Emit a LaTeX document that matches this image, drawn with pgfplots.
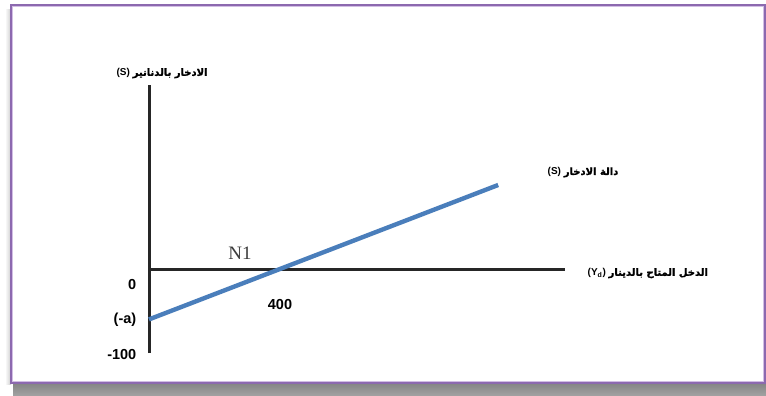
\documentclass[border=0pt]{standalone}
\usepackage{fontspec}
\usepackage{pgfplots}
\pgfplotsset{compat=1.18}
\setmainfont{Liberation Sans}
\newfontfamily\seriffont{Liberation Serif}
\newfontfamily\arabicfont[Script=Arabic, FakeBold=1.6]{DejaVu Sans}
\TeXXeTstate=1
\definecolor{framepurple}{RGB}{140,105,175}
\definecolor{framelilac}{RGB}{210,190,228}
\definecolor{lineblue}{RGB}{74,126,187}
\definecolor{ngray}{RGB}{60,60,60}
\definecolor{shadow}{RGB}{132,132,132}
\begin{document}
\begin{tikzpicture}
% page area and frame (1pt = 1px of the reference)
\path (0pt,0pt) rectangle (766pt,-396pt);
\shade[top color=shadow, bottom color=shadow!75] (13pt,-383pt) rectangle (766pt,-396pt);
\shade[left color=white, right color=gray!40] (5pt,-10pt) rectangle (11pt,-384pt);
\draw[framepurple, line width=2.4pt, fill=white] (11pt,-5pt) rectangle (764.8pt,-383pt);
\draw[framelilac, line width=0.8pt] (12.8pt,-6.8pt) rectangle (763pt,-381pt);
\begin{axis}[
    at={(149pt,-269pt)}, anchor=origin,
    scale only axis,
    width=416pt, height=268pt,
    xmin=0, xmax=1270,
    ymin=-100, ymax=219,
    axis lines=none,
    xtick=\empty, ytick=\empty,
    clip=false,
    ]
    % axes through the origin
    \draw[black!85, line width=3pt] (axis cs:0,0) -- (axis cs:1270,0);
    \draw[black!85, line width=3pt] (axis cs:0,-100) -- (axis cs:0,219);

    \addplot[color=lineblue, line width=4.4pt] coordinates {(0,-60) (1066,100)};

    \node[font=\bfseries\fontsize{14.5}{14.5}\selectfont, anchor=east] at (axis cs:-28,-18) {0};
    \node[font=\bfseries\fontsize{14.5}{14.5}\selectfont, anchor=east] at (axis cs:-28,-61) {(-a)};
    \node[font=\bfseries\fontsize{14.5}{14.5}\selectfont, anchor=east] at (axis cs:-28,-102) {-100};
    \node[font=\bfseries\fontsize{14.5}{14.5}\selectfont] at (axis cs:400,-42) {400};
    \node[font=\seriffont\fontsize{19}{19}\selectfont, text=ngray] at (axis cs:278,19) {N1};

    \node[font=\bfseries\fontsize{10}{10}\selectfont] at (axis cs:40,233)
        {(S) {\arabicfont\beginR الادخار بالدنانير\endR}};
    \node[font=\bfseries\fontsize{10}{10}\selectfont] at (axis cs:1325,115)
        {(S) {\arabicfont\beginR دالة الادخار\endR}};
    \node[font=\bfseries\fontsize{10}{10}\selectfont] at (axis cs:1523,-5)
        {(Y\textsubscript{d}) {\arabicfont\beginR الدخل المتاح بالدينار\endR}};
\end{axis}
\end{tikzpicture}
\end{document}
